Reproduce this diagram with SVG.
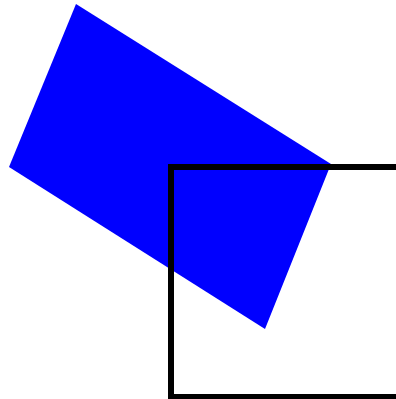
<svg xmlns="http://www.w3.org/2000/svg" width="396" height="399" viewBox="0 0 396 399">
<style>
.blue{fill:#0000ff;stroke:none}
.frame{fill:none;stroke:#000;stroke-width:6}
</style>
<rect width="396" height="399" fill="#fff"/>
<g id="blue-shape"><polygon class="blue" points="76,4 331,164 265,329 9,167"/></g>
<g id="frame"><rect class="frame" x="171" y="167" width="240" height="230"/></g>
</svg>
